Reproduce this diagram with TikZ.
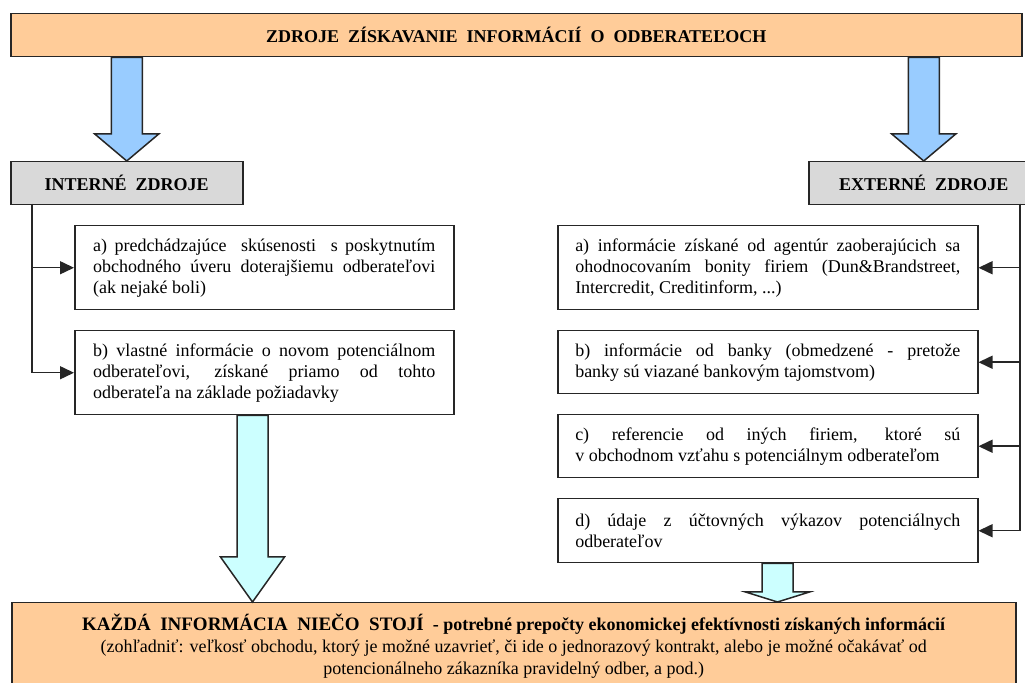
\documentclass[tikz,border=0pt]{standalone}
\usepackage{fontspec}
\setmainfont{Liberation Serif}
\usetikzlibrary{positioning,calc,arrows.meta}

\definecolor{peach}{HTML}{FFCC99}
\definecolor{greybox}{HTML}{D9D9D9}
\definecolor{skyblue}{HTML}{99CCFF}
\definecolor{paleblue}{HTML}{CCFFFF}
\definecolor{edge}{HTML}{262626}

\tikzset{
    box/.style={draw=edge, line width=0.75pt, rectangle, inner sep=0pt},
    headbox/.style={box, fill=greybox, font=\bfseries\fontsize{9}{10}\selectfont},
    infobox/.style={box, fill=white, align=justify, font=\fontsize{9}{10.5}\selectfont},
    feed/.style={draw=edge, line width=0.75pt, -{Triangle[length=7pt,width=6.5pt]}},
    fatarrow/.style={draw=edge, line width=0.75pt, line join=miter}
}

% block arrow: colour, from, to, head length
\newcommand{\fatdown}[4]{%
    \draw[fatarrow, fill=#1] let \p1=(#2), \p2=(#3) in
        (\x2-7.75pt,\y1) -- (\x2+7.75pt,\y1) -- (\x2+7.75pt,\y2+#4) -- (\x2+16pt,\y2+#4)
        -- (\x2,\y2) -- (\x2-16pt,\y2+#4) -- (\x2-7.75pt,\y2+#4) -- cycle;}

\begin{document}
\begin{tikzpicture}[x=0.5pt, y=-0.5pt]
    \useasboundingbox (0,0) rectangle (1025,683);

    % Title bar
    \node[box, fill=peach, anchor=north west, minimum width=505.5pt, minimum height=21.5pt,
          font=\bfseries\fontsize{9}{10}\selectfont] (title) at (10,13)
        {ZDROJE\ \ ZÍSKAVANIE\ \ INFORMÁCIÍ\ \ O\ \ ODBERATEĽOCH};

    % Source headers
    \node[headbox, anchor=north west, minimum width=116pt, minimum height=21.5pt] (intsrc) at (10,161) {INTERNÉ\ \ ZDROJE};
    \node[headbox, anchor=north west, minimum width=115pt, minimum height=21.5pt] (extsrc) at (808,161) {EXTERNÉ\ \ ZDROJE};

    % Internal sources
    \node[infobox, anchor=north west, text width=171pt, minimum width=189.5pt, minimum height=42pt] (inta) at (74,225)
        {a)\ predchádzajúce\ \ skúsenosti\ \ s~poskytnutím\linebreak obchodného úveru doterajšiemu odberateľovi\linebreak (ak nejaké boli)};
    \node[infobox, anchor=north west, text width=171pt, minimum width=189.5pt, minimum height=42pt] (intb) at (74,330)
        {b) vlastné informácie o novom potenciálnom\linebreak odberateľovi, získané priamo od tohto\linebreak odberateľa na základe požiadavky};

    % External sources
    \node[infobox, anchor=north west, text width=192.5pt, minimum width=210pt, minimum height=42pt] (exta) at (557,225)
        {a) informácie získané od agentúr zaoberajúcich sa\linebreak ohodnocovaním bonity firiem (Dun\&Brandstreet,\linebreak Intercredit, Creditinform, ...)};
    \node[infobox, anchor=north west, text width=192.5pt, minimum width=210pt, minimum height=31.5pt] (extb) at (557,330)
        {b) informácie od banky (obmedzené - pretože\linebreak banky sú viazané bankovým tajomstvom)};
    \node[infobox, anchor=north west, text width=192.5pt, minimum width=210pt, minimum height=31.5pt] (extc) at (557,414)
        {c) referencie od iných firiem, ktoré sú\linebreak v~obchodnom vzťahu s~potenciálnym odberateľom};
    \node[infobox, anchor=north west, text width=192.5pt, minimum width=210pt, minimum height=32pt] (extd) at (557,498)
        {d) údaje z~účtovných výkazov potenciálnych\linebreak odberateľov};

    % Cost box
    \node[box, fill=peach, anchor=north west, minimum width=502pt, minimum height=50pt] (costbox) at (11,602) {};
    \node[anchor=north, align=center, inner sep=0pt, font=\fontsize{9}{11}\selectfont] (costtext) at ([yshift=-6pt]costbox.north)
        {{\bfseries\fontsize{9.5}{11}\selectfont KAŽDÁ\ \ INFORMÁCIA\ \ NIEČO\ \ STOJÍ}\ \ \textbf{- potrebné\ prepočty\ ekonomickej\ efektívnosti získaných informácií}\\
         (zohľadniť: veľkosť obchodu, ktorý je možné uzavrieť, či ide o jednorazový kontrakt, alebo je možné očakávať od\\
         potencionálneho zákazníka pravidelný odber, a pod.)};

    % Feeder lines
    \coordinate (intrail) at (32,204);
    \coordinate (extrail) at (1020,204);
    \draw[feed] (intrail) |- (inta.west);
    \draw[feed] (intrail) |- (intb.west);
    \draw[feed] (extrail) |- (exta.east);
    \draw[feed] (extrail) |- (extb.east);
    \draw[feed] (extrail) |- (extc.east);
    \draw[feed] (extrail) |- (extd.east);

    % Block arrows
    \coordinate (intdrop) at (252.5,0);
    \coordinate (extdrop) at (777.5,0);
    \fatdown{skyblue}{title.south -| intsrc.north}{intsrc.north}{13.5pt}
    \fatdown{skyblue}{title.south -| extsrc.north}{extsrc.north}{13.5pt}
    \fatdown{paleblue}{intb.south -| intdrop}{costbox.north -| intdrop}{22.5pt}
    \fatdown{paleblue}{extd.south -| extdrop}{costbox.north -| extdrop}{5pt}
\end{tikzpicture}
\end{document}
